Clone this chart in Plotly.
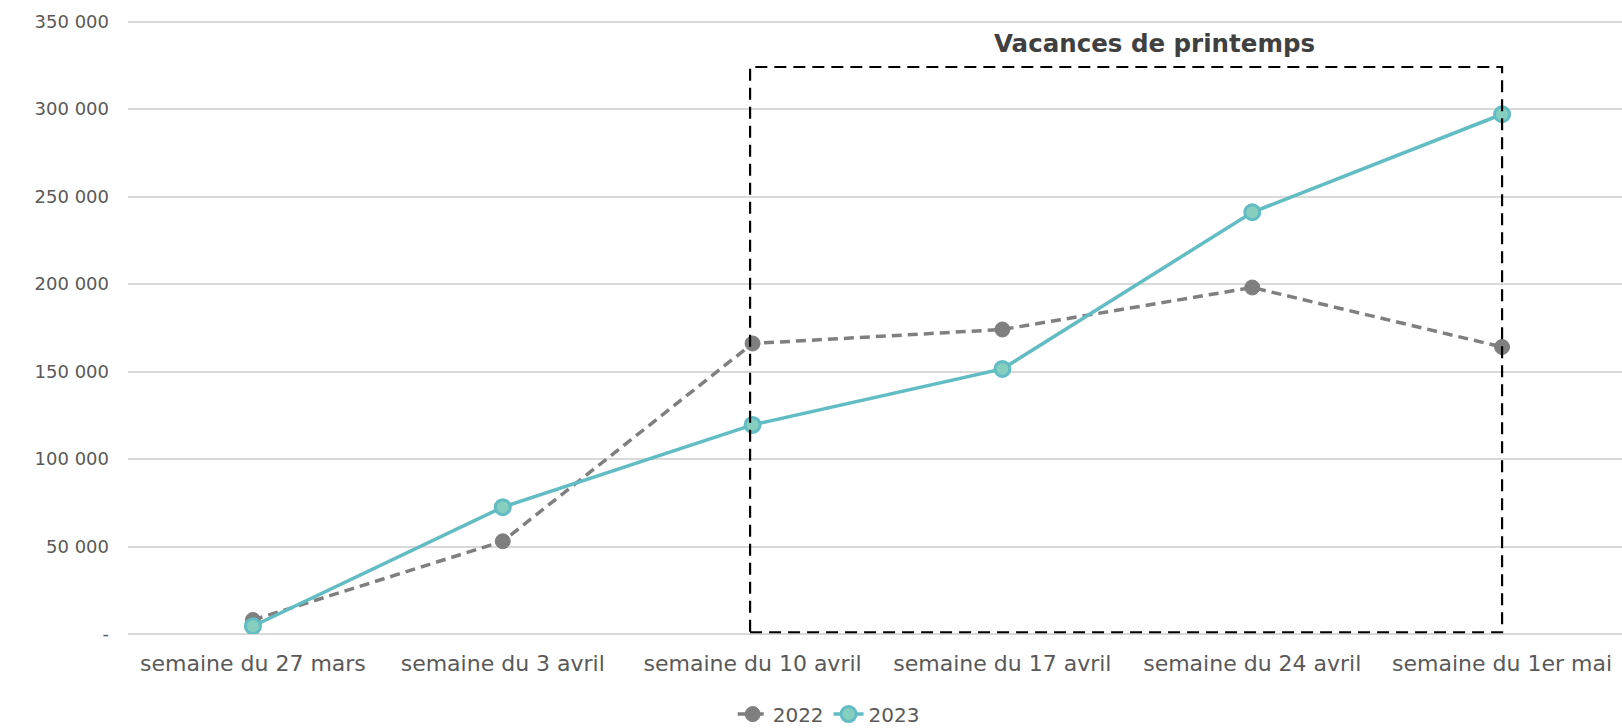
import plotly.graph_objects as go

categories = ["semaine du 27 mars", "semaine du 3 avril", "semaine du 10 avril",
              "semaine du 17 avril", "semaine du 24 avril", "semaine du 1er mai"]
values_2022 = [8000, 53000, 166000, 174000, 198000, 164000]
values_2023 = [4500, 72500, 119500, 151500, 241000, 297000]
tick_vals = [0, 50000, 100000, 150000, 200000, 250000, 300000, 350000]
tick_text = ["-", "50 000", "100 000", "150 000", "200 000", "250 000", "300 000", "350 000"]
box_label = "Vacances de printemps"

FONT = "DejaVu Sans"
TXT = "#595959"

x_idx = list(range(len(categories)))

fig = go.Figure()
fig.add_trace(go.Scatter(
    x=x_idx, y=values_2022, name="2022", mode="lines+markers",
    line=dict(color="#7f7f7f", width=3.5, dash="10px,6px"),
    marker=dict(symbol="circle", size=15, color="#7f7f7f", line=dict(color="#7f7f7f", width=1)),
))
fig.add_trace(go.Scatter(
    x=x_idx, y=values_2023, name="2023", mode="lines+markers",
    line=dict(color="#62bcc3", width=3.5),
    marker=dict(symbol="circle", size=15, color="#86cfbf", line=dict(color="#62bcc3", width=3)),
))

# dashed box around the spring holiday weeks
fig.add_shape(type="rect", xref="x", yref="y",
              x0=1.99, x1=5.0, y0=1000, y1=324000,
              line=dict(color="black", width=2.2, dash="12px,7px"),
              fillcolor="rgba(0,0,0,0)", layer="above")
fig.add_annotation(x=3.61, y=337600, xref="x", yref="y", text="<b>" + box_label + "</b>",
                   showarrow=False, font=dict(family=FONT, size=24.5, color="#404040"),
                   yanchor="middle")

fig.update_layout(
    width=1622, height=728,
    margin=dict(l=128, r=0, t=18, b=94, autoexpand=False),
    paper_bgcolor="white", plot_bgcolor="white",
    font=dict(family=FONT, size=18, color=TXT),
    showlegend=True,
    legend=dict(orientation="h", x=0.469, xanchor="center", y=-0.130, yanchor="middle",
                font=dict(family=FONT, size=20, color=TXT),
                traceorder="normal"),
    xaxis=dict(
        tickmode="array", tickvals=x_idx, ticktext=categories,
        range=[-0.5, 5.48], showgrid=False, zeroline=False, automargin=False,
        showline=False, ticks="", ticklabelstandoff=14,
        tickfont=dict(family=FONT, size=22, color=TXT),
    ),
    yaxis=dict(
        range=[0, 352000], tickmode="array", tickvals=tick_vals, ticktext=tick_text,
        showgrid=True, gridcolor="#d9d9d9", gridwidth=1.5, automargin=False,
        zeroline=True, zerolinecolor="#d9d9d9", zerolinewidth=1.5,
        showline=False, ticks="", ticklabelstandoff=18,
        tickfont=dict(family=FONT, size=18, color=TXT),
    ),
)

fig.write_html("out.html", config={"displayModeBar": False},
               post_script="document.body.style.margin='0px';document.body.style.overflow='hidden';")
